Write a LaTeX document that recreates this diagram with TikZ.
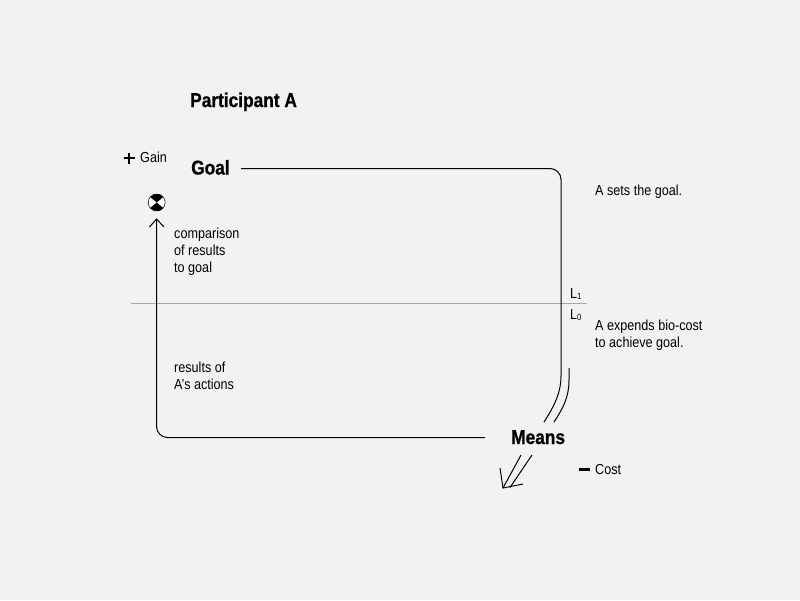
\documentclass[tikz,border=0pt]{standalone}
\usepackage{fontspec}
\setmainfont{Liberation Sans}
\newfontfamily\narrowfont[FakeStretch=0.87]{Liberation Sans}
\newfontfamily\narrowbold[FakeStretch=0.865,FakeBold=0.8]{Liberation Sans Bold}
\definecolor{bgc}{HTML}{F2F2F2}
\begin{document}
\begin{tikzpicture}[x=1pt,y=-1pt,
  body/.style={inner sep=0pt,anchor=base west,align=left,font=\narrowfont\fontsize{14.5}{17}\selectfont,text=black},
  head/.style={inner sep=0pt,anchor=base west,font=\narrowbold\fontsize{20}{22}\selectfont},
  wire/.style={draw=black,line width=1pt,rounded corners=11pt},
  thin wire/.style={draw=black,line width=1pt}]
\useasboundingbox (0,0) rectangle (800,600);
\fill[bgc] (0,0) rectangle (800,600);
% level line
\coordinate (levelL) at (131,303.5);
\coordinate (levelR) at (587,303.5);
\draw[black!35,line width=0.8pt] (levelL) -- (levelR);
% nodes
\node[head] (part) at (190,107) {Participant A};
\node[head] (goal) at (191,174.5) {Goal};
\node[head] (means) at (511,444) {Means};
\node[body] (gain) at (140,162) {Gain};
\node[body] (cost) at (595,474) {Cost};
\node[body] (cmp) at (174,272) {comparison\\of results\\to goal};
\node[body] (res) at (174,389) {results of\\A’s actions};
\node[body] (sets) at (595,195.5) {A sets the goal.};
\node[body] (exp) at (595,347) {A expends bio-cost\\to achieve goal.};
\node[body] (l1) at (570,298) {L\raisebox{-0.25ex}{\fontsize{9}{9}\selectfont 1}};
\node[body] (l0) at (570,319) {L\raisebox{-0.25ex}{\fontsize{9}{9}\selectfont 0}};
% plus and minus
\coordinate (plus) at (129,158);
\draw[line width=2.4pt] ([xshift=-5.5pt]plus) -- ([xshift=5.5pt]plus) ([yshift=-5.5pt]plus) -- ([yshift=5.5pt]plus);
\coordinate (minus) at (584.5,469.5);
\draw[line width=2.2pt] ([xshift=-5.5pt]minus) -- ([xshift=5.5pt]minus);
% comparator
\node[circle,draw=black,line width=0.5pt,fill=white,minimum size=17pt,inner sep=0pt] (cmpc) at (156.7,202.5) {};
\fill[black] (156.7,202.5) -- (150.2,197) arc[start angle=140,end angle=40,radius=8.5pt] -- cycle;
\fill[black] (156.7,202.5) -- (150.2,208) arc[start angle=-140,end angle=-40,radius=8.5pt] -- cycle;
% main connectors
\coordinate (goalEnd) at (241,168.5);
\coordinate (corner) at (561,168.5);
\coordinate (curve1) at (561,376);
\coordinate (meansA) at (544,422);
\draw[wire] (goalEnd) -- (corner) -- (curve1);
\draw[thin wire] (curve1) .. controls (561,392) and (555,405) .. (meansA);
\coordinate (c2) at (569,368);
\coordinate (c2m) at (569,380);
\coordinate (meansB) at (554,422);
\draw[thin wire] (c2) -- (c2m) .. controls (569,396) and (564,407) .. (meansB);
\coordinate (resStart) at (485,437.5);
\coordinate (resCorner) at (156.5,437.5);
\coordinate (resTip) at (156.5,219);
\draw[wire] (resStart) -- (resCorner) -- (resTip);
\coordinate (tipL) at (149.5,227);
\coordinate (tipR) at (164,227);
\draw[thin wire] (tipL) -- (resTip) -- (tipR);
% cost arrow
\coordinate (sA) at (521,455);
\coordinate (sB) at (532,455);
\coordinate (tA) at (503,488);
\coordinate (tB) at (510,487.5);
\coordinate (b1) at (500,468);
\coordinate (b2) at (523,484);
\draw[thin wire] (sA) -- (tA) (sB) -- (tB);
\draw[thin wire] (b1) -- (tA) -- (b2);
\end{tikzpicture}
\end{document}
